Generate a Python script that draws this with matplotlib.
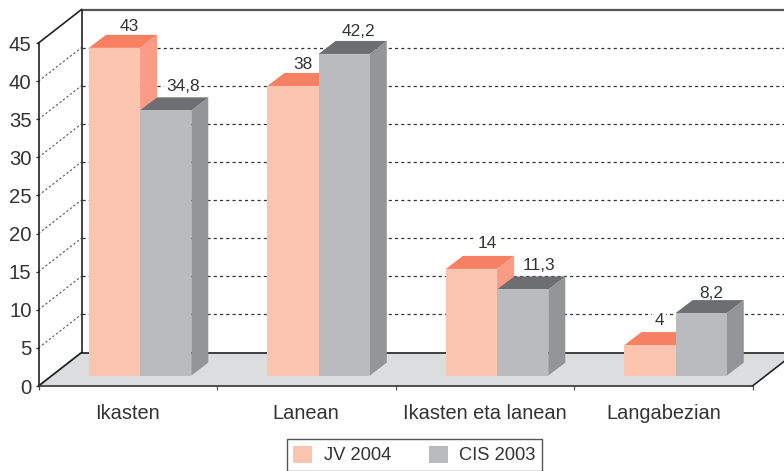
import matplotlib
matplotlib.use('Agg')
import matplotlib.pyplot as plt
from matplotlib.patches import Patch, Polygon

categories = ['Ikasten', 'Lanean', 'Ikasten eta lanean', 'Langabezian']
jv_2004 = [43, 38, 14, 4]
cis_2003 = [34.8, 42.2, 11.3, 8.2]
jv_labels = ['43', '38', '14', '4']
cis_labels = ['34,8', '42,2', '11,3', '8,2']
y_ticks = [0, 5, 10, 15, 20, 25, 30, 35, 40, 45]

W, H = 784, 471
TEXT = '#333333'
PINK = ('#FBC4AF', '#F77F62', '#F89C85')  # front, top, side
GREY = ('#B9BBBE', '#6D6E71', '#939598')

plt.rcParams['font.family'] = ['Liberation Sans', 'DejaVu Sans']

fig = plt.figure(figsize=(W / 100, H / 100), dpi=100)
ax = fig.add_axes([38.5 / W, 1 - 386 / H, 714 / W, 343 / H])
ax.set_xlim(0, 4)
ax.set_ylim(0, 45)

# sizes of the fake 3d in axis units
ux, uy = 714 / 4, 343 / 45
wall_dx, wall_dy = 43 / ux, 33.5 / uy
bar_dx, bar_dy = 17 / ux, 13 / uy
base = 10.4 / uy
bar_w = 51.2 / ux
bar_left = 50.4 / ux


def poly(pts, color, z):
    ax.add_patch(Polygon(pts, closed=True, fc=color, ec='none', zorder=z, clip_on=False))


def line(xs, ys, z=2, **kw):
    ax.plot(xs, ys, clip_on=False, zorder=z, **kw)


# floor
poly([(0, 0), (4, 0), (4 + wall_dx, wall_dy), (wall_dx, wall_dy)], '#DCDDDF', 1)
line([0, wall_dx], [0, wall_dy], color='#222222', lw=1.3)
line([wall_dx, 4 + wall_dx], [wall_dy, wall_dy], color='#222222', lw=1.2)
line([4, 4 + wall_dx], [0, wall_dy], color='#222222', lw=1.2)

# walls
for v in y_ticks[1:-1]:
    line([0, wall_dx], [v, v + wall_dy], color='#555555', lw=0.8, ls=(0, (2, 2)))
    line([wall_dx, 4 + wall_dx], [v + wall_dy, v + wall_dy], color='#333333', lw=0.9, ls=(0, (2.5, 2.5)))
line([0, wall_dx], [45, 45 + wall_dy], color='#222222', lw=1.2)
line([wall_dx, 4 + wall_dx], [45 + wall_dy, 45 + wall_dy], color='#555555', lw=1.6)
line([wall_dx, wall_dx], [wall_dy, 45 + wall_dy], color='#222222', lw=1.2)


def bar3d(x0, v, colors, z):
    ax.bar(x0, v, bar_w, bottom=base, align='edge', color=colors[0], zorder=z + 1, clip_on=False)
    x1 = x0 + bar_w
    top = base + v
    poly([(x1, base), (x1 + bar_dx, base + bar_dy), (x1 + bar_dx, top + bar_dy), (x1, top)], colors[2], z)
    poly([(x0, top), (x1, top), (x1 + bar_dx, top + bar_dy), (x0 + bar_dx, top + bar_dy)], colors[1], z)


# label nudges in pixels, (right, up) from the back edge of the bar top
jv_nudge = [(0, 8), (-5, 8), (1, 12), (-6, 12)]
cis_nudge = [(2, 11), (-1, 9), (1, 11), (-5, 7)]
for i in range(len(categories)):
    x_jv = i + bar_left
    x_cis = x_jv + bar_w
    bar3d(x_jv, jv_2004[i], PINK, 4)
    bar3d(x_cis, cis_2003[i], GREY, 6)
    for x, v, s, (nx, ny) in [(x_jv, jv_2004[i], jv_labels[i], jv_nudge[i]),
                              (x_cis, cis_2003[i], cis_labels[i], cis_nudge[i])]:
        # under the bars so the white box only hides the grid
        ax.annotate(s, (x + bar_w / 2 + bar_dx - 2 / ux, base + v + bar_dy),
                    xytext=(nx * 0.72, ny * 0.72), textcoords='offset points',
                    ha='center', va='center', fontsize=12.4, color=TEXT, zorder=3,
                    annotation_clip=False, bbox=dict(fc='white', ec='none', pad=1.2))

for s in ('top', 'right'):
    ax.spines[s].set_visible(False)
ax.spines['left'].set(color='#222222', lw=1.2, zorder=8)
ax.spines['bottom'].set(color='#333333', lw=1.2, zorder=8)

ax.set_yticks(y_ticks)
ax.tick_params(axis='y', length=2.5, width=0.9, pad=2.5, labelsize=14.6, labelcolor=TEXT, color='#222222')
ax.set_xticks(range(5))
ax.set_xticklabels([])
ax.set_xticks([i + 0.5 for i in range(4)], categories, minor=True)
ax.tick_params(axis='x', which='major', length=3, width=0.9, color='#555555')
ax.tick_params(axis='x', which='minor', length=0, pad=13, labelsize=14.4, labelcolor=TEXT)

handles = [Patch(fc=PINK[0], ec='none', label='JV 2004'), Patch(fc=GREY[0], ec='none', label='CIS 2003')]
fig.legend(handles=handles, ncol=2, loc='lower left', bbox_to_anchor=(287 / W, 0.4 / H),
           fontsize=13.2, labelcolor=TEXT, frameon=True, fancybox=False, edgecolor='#555555',
           framealpha=1, handlelength=1.05, handleheight=1.05, handletextpad=0.62,
           columnspacing=2.05, borderpad=0.34, borderaxespad=0)

fig.savefig('out.png', dpi=100)
